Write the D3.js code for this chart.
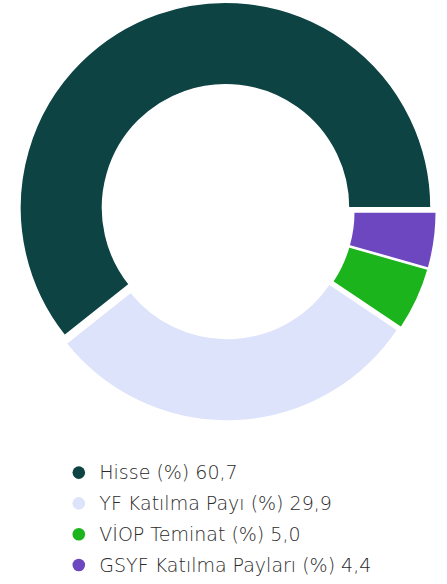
<!DOCTYPE html>
<html>
<head>
<meta charset="utf-8">
<script src="https://cdn.jsdelivr.net/npm/d3@7"></script>
<style>
  html, body { margin: 0; padding: 0; background: #ffffff; }
  svg { display: block; }
  .legend text { font-family: "DejaVu Sans", sans-serif; font-weight: 200; font-size: 19px; fill: #2a2a2a; }
</style>
</head>
<body>
<div id="chart"></div>
<script>
// Portfolio breakdown (%)
const categories = ["Hisse (%)", "YF Katılma Payı (%)", "VİOP Teminat (%)", "GSYF Katılma Payları (%)"];
const values = [60.7, 29.9, 5.0, 4.4];
const valueLabels = ["60,7", "29,9", "5,0", "4,4"];
const colors = ["#0e4344", "#dee3fc", "#1cb41c", "#6d47c0"];

const width = 447, height = 584;
const cx = 226.8, cy = 211.5;
const outerR = 205.5, innerR = 123;
const sliceOffset = 4;

const svg = d3.select("#chart").append("svg")
  .attr("width", width).attr("height", height);

const color = d3.scaleOrdinal().domain(categories).range(colors);

// Slices run counter-clockwise starting at 3 o'clock
const pie = d3.pie().sort(null).value(d => d.value)
  .startAngle(Math.PI / 2).endAngle(Math.PI / 2 - 2 * Math.PI);

const arc = d3.arc().innerRadius(innerR).outerRadius(outerR);

const data = categories.map((c, i) => ({ name: c, value: values[i], label: valueLabels[i] }));

const g = svg.append("g").attr("transform", `translate(${cx},${cy})`);

g.selectAll("path").data(pie(data)).join("path")
  .attr("d", arc)
  .attr("fill", d => color(d.data.name))
  .attr("stroke", "#ffffff")
  .attr("stroke-width", 1.5)
  .attr("stroke-linejoin", "round")
  .attr("transform", d => {
    const mid = (d.startAngle + d.endAngle) / 2;
    return `translate(${Math.sin(mid) * sliceOffset},${-Math.cos(mid) * sliceOffset})`;
  });

// Legend
const legendX = 78.8, legendY0 = 472.6, legendStep = 30.8;
const legend = svg.append("g").attr("class", "legend");
const rows = legend.selectAll("g").data(data).join("g")
  .attr("transform", (d, i) => `translate(${legendX},${legendY0 + i * legendStep})`);
rows.append("circle").attr("r", 6.3).attr("fill", d => color(d.name));
rows.append("text").attr("x", 20.5).attr("y", 6.8)
  .text(d => `${d.name} ${d.label}`);
</script>
</body>
</html>
